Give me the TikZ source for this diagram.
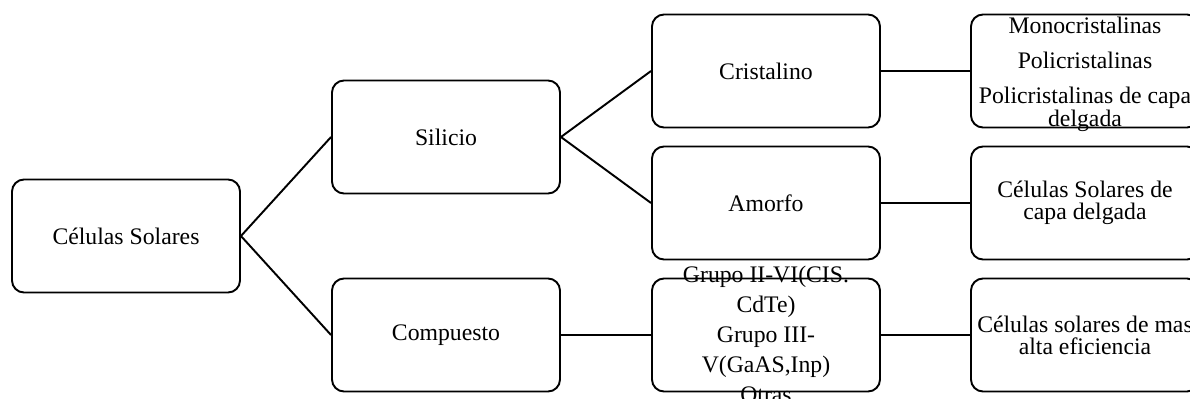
\documentclass[tikz,border=0pt]{standalone}
\usepackage{fontspec}
\setmainfont{Liberation Serif}

\tikzset{
	caja/.style={draw,line width=1.1pt,rounded corners=0.24cm,minimum width=4.56cm,minimum height=2.26cm,inner sep=0pt},
	texto/.style={align=center,inner sep=0pt,font=\fontsize{13.5}{12.5}\selectfont}
}

\begin{document}
\begin{tikzpicture}[line width=1.1pt]
\def\l{6.4}
\def\h{2.64}
\def\linea#1#2{
	\draw #1 -- #2;
}
\useasboundingbox (0,0) rectangle (23.8,-7.96);
\clip (0,0) rectangle (23.8,-7.96);
\coordinate (q0) at (2.52,-4.72);
\coordinate (q1) at ({2.52+1*\l},-2.74);
\coordinate (q2) at ({2.52+1*\l},{-1.42-2*\h});
\coordinate (q3) at ({2.52+2*\l},-1.42);
\coordinate (q4) at ({2.52+2*\l},{-1.42-1*\h});
\coordinate (q5) at ({2.52+2*\l},{-1.42-2*\h});
\coordinate (q6) at ({2.52+3*\l-0.02},-1.42);
\coordinate (q7) at ({2.52+3*\l-0.02},{-1.42-1*\h});
\coordinate (q8) at ({2.52+3*\l-0.02},{-1.42-2*\h});
% cajas
\node[caja] (raiz) at (q0) {};
\node[caja] (silicio) at (q1) {};
\node[caja] (compuesto) at (q2) {};
\node[caja] (cristalino) at (q3) {};
\node[caja] (amorfo) at (q4) {};
\node[caja] (grupos) at (q5) {};
\node[caja] (monocris) at (q6) {};
\node[caja] (capadel) at (q7) {};
\node[caja] (altaef) at (q8) {};
% textos
\node[texto] (traiz) at (raiz) {Células Solares};
\node[texto] (tsilicio) at (silicio) {Silicio};
\node[texto] (tcompuesto) at (compuesto) {Compuesto};
\node[texto] (tcristalino) at (cristalino) {Cristalino};
\node[texto] (tamorfo) at (amorfo) {Amorfo};
\node[texto] (tgrupos) at ([yshift=0.01cm]grupos) {Grupo II-VI(CIS.\\[4.5pt]CdTe)\\[4.5pt]Grupo III-\\[4.5pt]V(GaAS,Inp)\\[4.5pt]Otras};
\node[texto] (tmonocris) at ([yshift=-0.06cm]monocris) {Monocristalinas\\[7.4pt]Policristalinas\\[7.4pt]Policristalinas de capa\\[0.5pt]delgada};
\node[texto] (tcapadel) at (capadel) {Células Solares de\\capa delgada};
\node[texto] (taltaef) at (altaef) {Células solares de mas\\alta eficiencia};
% conectores
\linea{(raiz.east)}{(silicio.west)}
\linea{(raiz.east)}{(compuesto.west)}
\linea{(silicio.east)}{(cristalino.west)}
\linea{(silicio.east)}{(amorfo.west)}
\linea{(compuesto.east)}{(grupos.west)}
\linea{(cristalino.east)}{(monocris.west)}
\linea{(amorfo.east)}{(capadel.west)}
\linea{(grupos.east)}{(altaef.west)}
\end{tikzpicture}
\end{document}
